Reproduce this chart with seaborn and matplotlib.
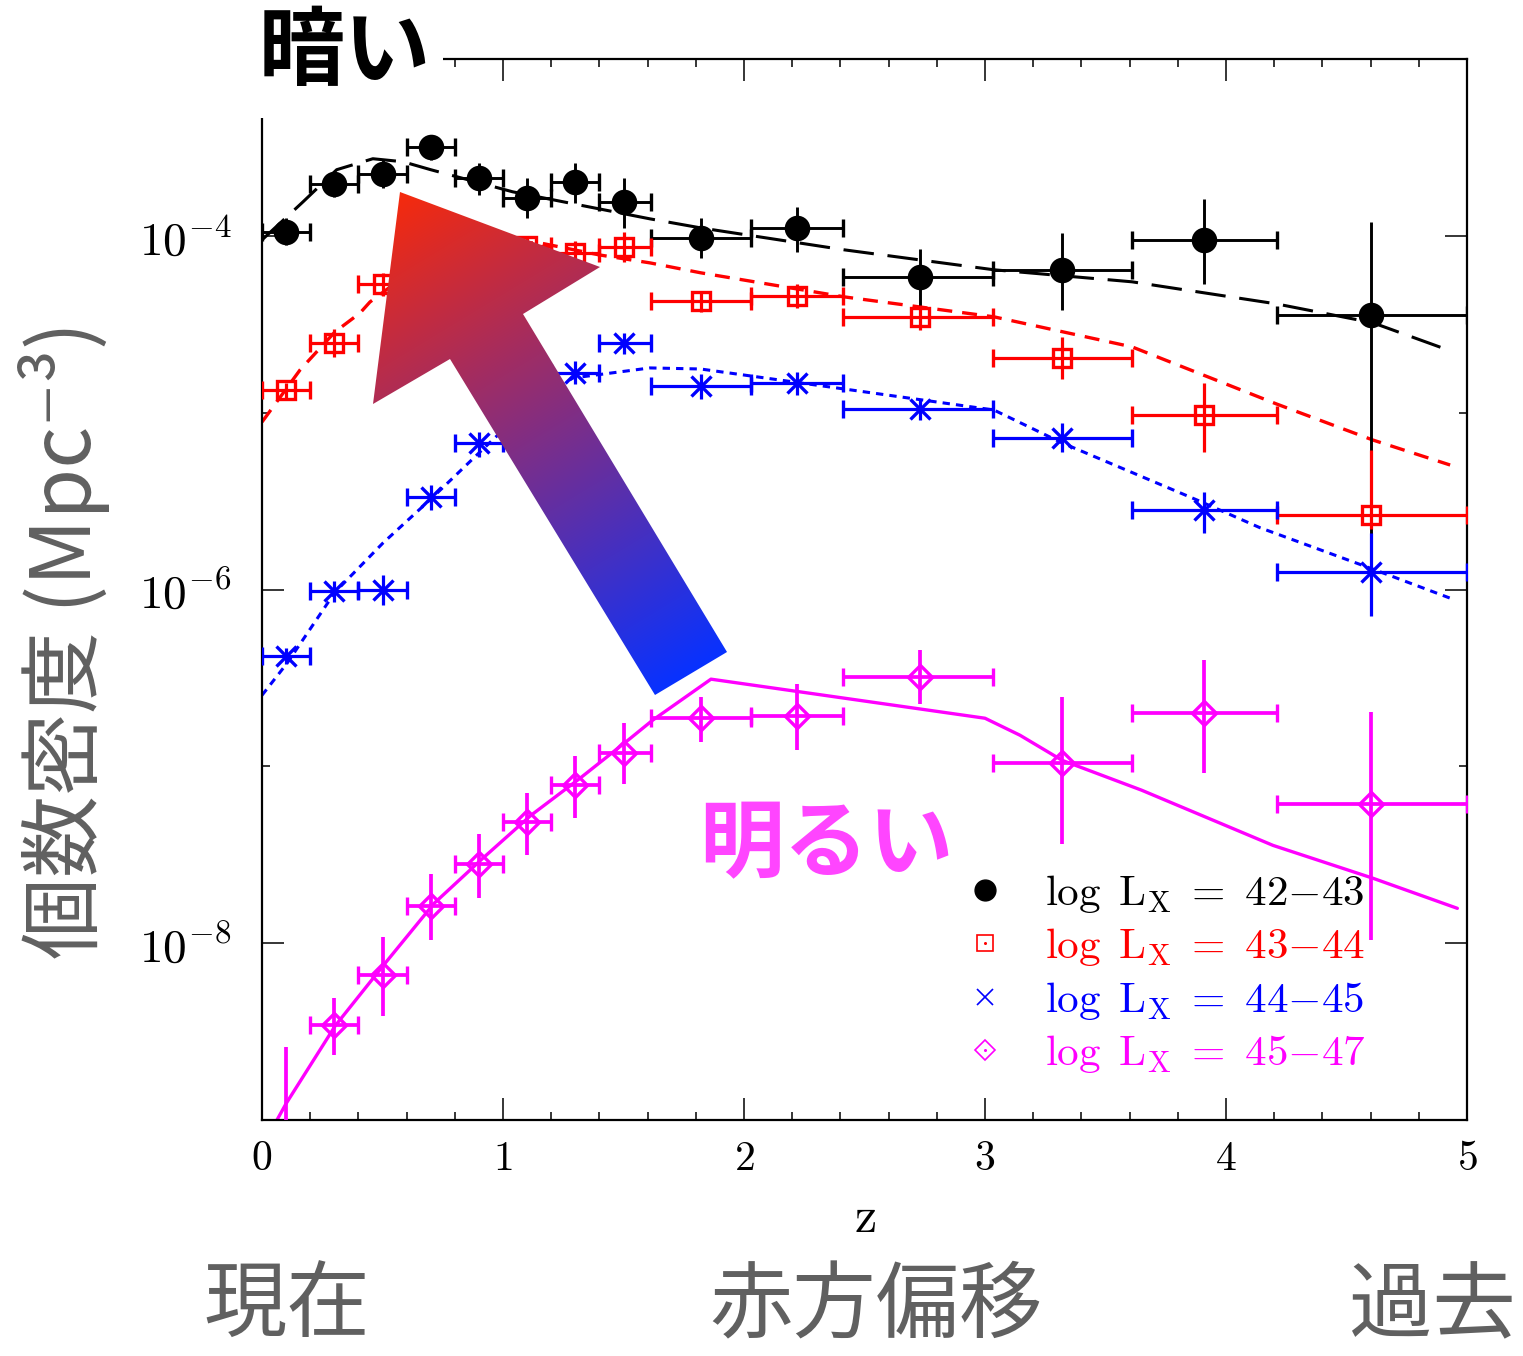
import numpy as np
import matplotlib
matplotlib.use('Agg')
import matplotlib.pyplot as plt
import seaborn as sns
from matplotlib.lines import Line2D
from matplotlib.patches import Polygon, Rectangle
from matplotlib.ticker import NullFormatter

sns.set_theme(style='ticks')
plt.rcParams['font.family'] = ['Noto Sans CJK JP', 'DejaVu Sans']
plt.rcParams['mathtext.fontset'] = 'cm'

# redshift bins (centre, low edge, high edge)
z_mid = np.array([0.1, 0.3, 0.5, 0.7, 0.9, 1.1, 1.3, 1.5, 1.82, 2.22, 2.73, 3.32, 3.91, 4.60])
z_lo = np.array([0.0, 0.2, 0.4, 0.6, 0.8, 1.0, 1.2, 1.4, 1.615, 2.03, 2.41, 3.035, 3.61, 4.21])
z_hi = np.array([0.2, 0.4, 0.6, 0.8, 1.0, 1.2, 1.4, 1.615, 2.03, 2.41, 3.035, 3.61, 4.21, 5.0])

# log10 number density: value, upper, lower
k_log = [-3.977, -3.706, -3.649, -3.496, -3.672, -3.785, -3.694, -3.808, -4.011, -3.955, -4.232, -4.192, -4.023, -4.447]
k_up = [-3.898, -3.644, -3.57, -3.43, -3.587, -3.672, -3.587, -3.672, -3.898, -3.836, -4.074, -3.983, -3.79, -3.92]
k_dn = [-4.05, -3.779, -3.73, -3.57, -3.768, -3.898, -3.813, -3.955, -4.125, -4.09, -4.40, -4.419, -4.27, -5.7]

r_log = [-4.872, -4.606, -4.272, -4.15, -4.10, -4.06, -4.096, -4.062, -4.368, -4.340, -4.458, -4.690, -5.013, -5.579]
r_up = [-4.83, -4.526, -4.21, -4.09, -4.04, -4.01, -4.03, -3.98, -4.31, -4.27, -4.39, -4.57, -4.83, -5.21]
r_dn = [-4.92, -4.685, -4.34, -4.21, -4.16, -4.12, -4.16, -4.15, -4.43, -4.41, -4.53, -4.81, -5.22, -5.66]

b_log = [-6.377, -6.009, -6.003, -5.477, -5.171, -4.95, -4.775, -4.606, -4.849, -4.832, -4.979, -5.143, -5.551, -5.902]
b_up = [-6.33, -5.95, -5.92, -5.41, -5.11, -4.88, -4.71, -4.55, -4.78, -4.77, -4.92, -5.06, -5.45, -5.68]
b_dn = [-6.42, -6.07, -6.09, -5.55, -5.25, -5.02, -4.84, -4.67, -4.92, -4.90, -5.04, -5.22, -5.68, -6.15]

m_log = [-9.1, -8.465, -8.182, -7.792, -7.554, -7.316, -7.107, -6.926, -6.728, -6.716, -6.496, -6.982, -6.70, -7.214]
m_up = [-8.59, -8.31, -7.967, -7.61, -7.38, -7.15, -6.94, -6.756, -6.61, -6.535, -6.34, -6.61, -6.40, -6.69]
m_dn = [-9.6, -8.635, -8.41, -7.984, -7.746, -7.50, -7.29, -7.10, -6.86, -6.91, -6.65, -7.44, -7.04, -7.98]

# model curves
k_mod_z = [0, 0.17, 0.31, 0.46, 0.585, 0.70, 1.04, 1.27, 1.61, 1.82, 2.415, 3.037, 3.61, 4.21, 4.61, 4.91]
k_mod = [-4.023, -3.808, -3.626, -3.564, -3.581, -3.626, -3.751, -3.813, -3.904, -3.955, -4.079, -4.192, -4.26, -4.385, -4.492, -4.64]
r_mod_z = [0, 0.158, 0.303, 0.407, 0.448, 0.6, 0.8, 1.0, 1.153, 1.40, 1.61, 1.82, 2.415, 3.037, 3.61, 4.21, 4.61, 4.93]
r_mod = [-5.053, -4.758, -4.543, -4.436, -4.374, -4.22, -4.10, -4.04, -4.04, -4.108, -4.153, -4.209, -4.345, -4.458, -4.628, -4.951, -5.155, -5.296]
b_mod_z = [0, 0.104, 0.303, 0.502, 0.705, 0.913, 1.1, 1.29, 1.61, 1.82, 2.415, 3.037, 3.32, 3.88, 4.14, 4.61, 4.93]
b_mod = [-6.598, -6.417, -6.015, -5.737, -5.483, -5.211, -4.97, -4.804, -4.747, -4.753, -4.866, -4.985, -5.171, -5.494, -5.65, -5.885, -6.049]
m_mod_z = [0.058, 0.1, 0.305, 0.513, 0.714, 0.916, 1.116, 1.32, 1.519, 1.62, 1.863, 3.0, 3.145, 3.32, 3.65, 4.195, 4.61, 4.96]
m_mod = [-9.01, -8.907, -8.465, -8.11, -7.775, -7.52, -7.277, -7.067, -6.852, -6.74, -6.507, -6.728, -6.824, -6.966, -7.135, -7.447, -7.633, -7.803]

legend_labels = [r'$\mathrm{log\ \,L_X\;=\ 42{-}43}$',
                 r'$\mathrm{log\ \,L_X\;=\ 43{-}44}$',
                 r'$\mathrm{log\ \,L_X\;=\ 44{-}45}$',
                 r'$\mathrm{log\ \,L_X\;=\ 45{-}47}$']
colors = ['black', '#ff0000', '#0000ff', '#ff00ff']

W, H = 1523, 1356
fig = plt.figure(figsize=(W / 100, H / 100), dpi=100)
ax = fig.add_axes([262 / W, 1 - 1120 / H, 1205 / W, 1061 / H])
ax.set_yscale('log')

# model lines
sns.lineplot(x=k_mod_z, y=10 ** np.array(k_mod), ax=ax, color='black', lw=2.2, linestyle=(0, (10, 4.5)))
sns.lineplot(x=r_mod_z, y=10 ** np.array(r_mod), ax=ax, color=colors[1], lw=2.4, linestyle=(0, (4.5, 3)))
sns.lineplot(x=b_mod_z, y=10 ** np.array(b_mod), ax=ax, color=colors[2], lw=2.2, linestyle=(0, (2.4, 2)))
sns.lineplot(x=m_mod_z, y=10 ** np.array(m_mod), ax=ax, color=colors[3], lw=2.4)

xerr = [z_mid - z_lo, z_hi - z_mid]


def draw_points(vals, up, dn, color, marker, ms, mfc, elw):
    v = 10 ** np.array(vals)
    yerr = [v - 10 ** np.array(dn), 10 ** np.array(up) - v]
    # vertical bars carry no caps, horizontal bins do
    ax.errorbar(z_mid, v, yerr=yerr, fmt='none', ecolor=color, elinewidth=elw, capsize=0, zorder=3)
    ax.errorbar(z_mid, v, xerr=xerr, fmt=marker, ms=ms, mfc=mfc, mec=color,
                mew=2.4, ecolor=color, elinewidth=elw, capsize=6.5, capthick=elw, zorder=3)


draw_points(k_log, k_up, k_dn, 'black', 'o', 16, 'black', 2.1)
draw_points(r_log, r_up, r_dn, colors[1], 's', 13, 'none', 2.3)
draw_points(b_log, b_up, b_dn, colors[2], 'x', 14, 'none', 2.3)
draw_points(m_log, m_up, m_dn, colors[3], 'D', 12.5, 'none', 2.7)

ax.set_xlim(0, 5)
ax.set_ylim(1e-9, 1e-3)
ax.set_xticks(range(6), labels=['$%d$' % i for i in range(6)])
ax.set_xticks(np.arange(0, 5.01, 0.2), minor=True)
ax.set_yticks([1e-8, 1e-6, 1e-4], labels=[r'$10^{-8}$', r'$10^{-6}$', r'$10^{-4}$'])
ax.set_yticks([1e-9, 1e-7, 1e-5, 1e-3], minor=True)
ax.yaxis.set_minor_formatter(NullFormatter())
ax.tick_params(which='both', direction='in', top=True, right=True, colors='black')
ax.tick_params(which='major', length=16, width=1.1)
ax.tick_params(which='minor', length=6, width=1.1)
ax.tick_params(axis='x', pad=13, labelsize=30)
ax.tick_params(axis='y', pad=22, labelsize=34)
for s in ax.spines.values():
    s.set_linewidth(1.6)
    s.set_color('black')
ax.set_xlabel(r'$\mathrm{z}$', fontsize=36, labelpad=9, color='black')

# legend
dot = dict(ls='none', marker='o', ms=2.2, mew=0)
handles = [
    Line2D([], [], ls='none', marker='o', ms=15, color='black'),
    (Line2D([], [], ls='none', marker='s', ms=12, mfc='none', mec=colors[1], mew=1.2),
     Line2D([], [], color=colors[1], **dot)),
    Line2D([], [], ls='none', marker='x', ms=11, mew=1.2, color=colors[2]),
    (Line2D([], [], ls='none', marker='D', ms=10, mfc='none', mec=colors[3], mew=1.2),
     Line2D([], [], color=colors[3], **dot)),
]
leg = ax.legend(handles, legend_labels, loc='upper left', bbox_to_anchor=(0.583, 0.235),
                frameon=False, fontsize=31, handlelength=0.97, handletextpad=0.9,
                labelspacing=0.22, borderpad=0, borderaxespad=0)
for t, c in zip(leg.get_texts(), colors):
    t.set_color(c)

# overlay in figure pixels for the annotations
ov = fig.add_axes([0, 0, 1, 1], zorder=10)
arrow_xy = [(400, 192), (600, 267), (523, 314), (727, 652), (655, 695), (450, 359), (373, 404)]
poly = Polygon(arrow_xy, closed=True, facecolor='none', edgecolor='none')
ov.add_patch(poly)
tip = np.array([400.0, 192.0])
tail = np.array([691.0, 673.0])
d = tail - tip
gx, gy = np.meshgrid(np.linspace(360, 740, 300), np.linspace(185, 705, 400))
t = np.clip(((gx - tip[0]) * d[0] + (gy - tip[1]) * d[1]) / (d @ d), 0, 1)[..., None]
c0 = np.array([246, 42, 12]) / 255
c1 = np.array([8, 50, 255]) / 255
img = c0 * (1 - t) + c1 * t
im = ov.imshow(img, extent=(360, 740, 705, 185), aspect='auto', interpolation='bilinear')
im.set_clip_path(poly)

ov.add_patch(Rectangle((235, 0), 208, 118, facecolor='white', edgecolor='none', zorder=1))
ov.text(345, 53, '暗い', ha='center', va='center', fontsize=62, fontweight='bold', color='black', zorder=2)
ov.text(826, 845, '明るい', ha='center', va='center', fontsize=61, fontweight='bold', color='#ff45ff')
gray = '#606060'
ov.text(64, 640, '個数密度 (Mpc⁻³)', ha='center', va='center', rotation=90, fontsize=59, color=gray)
ov.text(287, 1331, '現在', ha='center', va='baseline', fontsize=60, color=gray)
ov.text(876, 1331, '赤方偏移', ha='center', va='baseline', fontsize=60, color=gray)
ov.text(1432, 1331, '過去', ha='center', va='baseline', fontsize=60, color=gray)
ov.set_xlim(0, W)
ov.set_ylim(H, 0)
ov.axis('off')

fig.savefig('out.png', dpi=100, facecolor='white')
